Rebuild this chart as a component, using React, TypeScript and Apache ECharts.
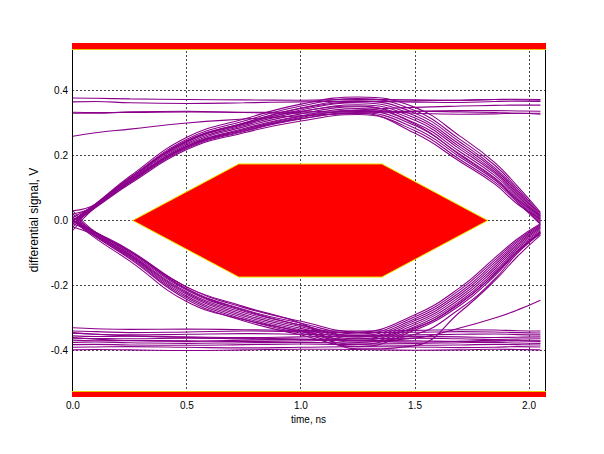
import React, { useEffect, useRef } from "react";
import * as echarts from "echarts";

// time samples (ns) shared by all traces
const T = [0, 0.1, 0.25, 0.5, 0.75, 1.0, 1.25, 1.5, 1.7, 1.85, 1.95, 2.05];

// rising then falling traces (upper lobe of the eye)
const upperLobe = [
  [0.0, 0.052, 0.136, 0.256, 0.312, 0.358, 0.38, 0.348, 0.258, 0.178, 0.105, 0.025],
  [-0.01, 0.05, 0.132, 0.25, 0.306, 0.352, 0.375, 0.338, 0.248, 0.17, 0.098, 0.02],
  [0.0, 0.05, 0.13, 0.245, 0.3, 0.346, 0.368, 0.33, 0.24, 0.162, 0.092, 0.016],
  [0.01, 0.049, 0.128, 0.241, 0.296, 0.34, 0.362, 0.322, 0.232, 0.156, 0.087, 0.012],
  [-0.02, 0.046, 0.125, 0.237, 0.292, 0.334, 0.356, 0.315, 0.225, 0.15, 0.082, 0.008],
  [0.0, 0.046, 0.122, 0.233, 0.288, 0.328, 0.35, 0.308, 0.218, 0.145, 0.077, 0.004],
  [-0.03, 0.042, 0.12, 0.229, 0.283, 0.322, 0.344, 0.3, 0.21, 0.138, 0.072, 0.0],
  [0.02, 0.045, 0.12, 0.226, 0.279, 0.317, 0.338, 0.292, 0.202, 0.131, 0.066, -0.004],
  [0.0, 0.043, 0.116, 0.222, 0.274, 0.312, 0.332, 0.284, 0.194, 0.124, 0.06, -0.008],
  [-0.01, 0.04, 0.113, 0.218, 0.27, 0.306, 0.326, 0.276, 0.186, 0.118, 0.055, -0.012],
  [0.03, 0.05, 0.13, 0.243, 0.298, 0.336, 0.352, 0.296, 0.2, 0.128, 0.064, 0.015],
  [0.0, 0.044, 0.118, 0.225, 0.276, 0.314, 0.33, 0.268, 0.18, 0.112, 0.05, 0.005],
];

// traces that stay high
const upperFlat = [
  [0.377, 0.376, 0.374, 0.372, 0.371, 0.37, 0.372, 0.371, 0.37, 0.372, 0.373, 0.372],
  [0.365, 0.366, 0.362, 0.36, 0.362, 0.365, 0.366, 0.364, 0.363, 0.366, 0.367, 0.366],
  [0.333, 0.332, 0.332, 0.334, 0.332, 0.33, 0.335, 0.336, 0.334, 0.332, 0.33, 0.33],
  [0.33, 0.33, 0.334, 0.336, 0.333, 0.334, 0.338, 0.33, 0.327, 0.328, 0.33, 0.327],
  [0.259, 0.27, 0.281, 0.3, 0.312, 0.322, 0.33, 0.336, 0.338, 0.338, 0.337, 0.336],
  [0.0, 0.05, 0.13, 0.245, 0.3, 0.345, 0.365, 0.368, 0.37, 0.372, 0.371, 0.37],
  [-0.01, 0.044, 0.12, 0.228, 0.28, 0.32, 0.34, 0.348, 0.352, 0.354, 0.355, 0.355],
];

// falling then rising traces (lower lobe of the eye)
const lowerLobe = [
  [0.0, -0.036, -0.092, -0.205, -0.268, -0.31, -0.343, -0.29, -0.205, -0.115, -0.056, -0.01],
  [0.01, -0.038, -0.096, -0.21, -0.274, -0.316, -0.349, -0.296, -0.212, -0.122, -0.061, -0.013],
  [-0.01, -0.04, -0.1, -0.215, -0.279, -0.322, -0.354, -0.302, -0.219, -0.129, -0.066, -0.016],
  [0.0, -0.042, -0.104, -0.22, -0.284, -0.327, -0.359, -0.308, -0.226, -0.136, -0.071, -0.02],
  [0.02, -0.04, -0.106, -0.224, -0.289, -0.332, -0.364, -0.314, -0.233, -0.143, -0.076, -0.024],
  [0.0, -0.045, -0.109, -0.228, -0.294, -0.337, -0.369, -0.32, -0.24, -0.15, -0.081, -0.028],
  [-0.02, -0.047, -0.112, -0.233, -0.299, -0.342, -0.375, -0.326, -0.247, -0.157, -0.086, -0.032],
  [0.01, -0.047, -0.115, -0.238, -0.304, -0.347, -0.381, -0.332, -0.254, -0.163, -0.091, -0.036],
  [0.0, -0.05, -0.118, -0.243, -0.309, -0.352, -0.388, -0.337, -0.26, -0.17, -0.096, -0.04],
  [0.03, -0.036, -0.094, -0.212, -0.276, -0.322, -0.356, -0.33, -0.252, -0.165, -0.095, -0.035],
  [0.0, -0.038, -0.095, -0.205, -0.265, -0.316, -0.395, -0.385, -0.28, -0.185, -0.11, -0.045],
  [0.0, -0.055, -0.125, -0.25, -0.305, -0.34, -0.37, -0.35, -0.27, -0.18, -0.1, -0.04],
];

// traces that stay low
const lowerFlat = [
  [-0.34, -0.342, -0.345, -0.343, -0.34, -0.342, -0.345, -0.344, -0.342, -0.343, -0.345, -0.346],
  [-0.347, -0.35, -0.352, -0.35, -0.348, -0.35, -0.353, -0.352, -0.35, -0.349, -0.351, -0.352],
  [-0.355, -0.357, -0.356, -0.358, -0.36, -0.358, -0.356, -0.357, -0.358, -0.36, -0.359, -0.358],
  [-0.362, -0.363, -0.364, -0.362, -0.364, -0.366, -0.364, -0.362, -0.364, -0.366, -0.365, -0.364],
  [-0.368, -0.37, -0.369, -0.37, -0.372, -0.37, -0.368, -0.37, -0.372, -0.371, -0.37, -0.37],
  [-0.375, -0.374, -0.376, -0.378, -0.376, -0.375, -0.377, -0.378, -0.376, -0.375, -0.377, -0.378],
  [-0.382, -0.381, -0.383, -0.384, -0.382, -0.38, -0.382, -0.384, -0.383, -0.381, -0.382, -0.383],
  [-0.39, -0.389, -0.388, -0.39, -0.392, -0.39, -0.388, -0.389, -0.391, -0.39, -0.388, -0.389],
  [-0.398, -0.397, -0.398, -0.4, -0.398, -0.396, -0.397, -0.399, -0.398, -0.396, -0.397, -0.398],
  [-0.36, -0.365, -0.37, -0.372, -0.368, -0.366, -0.37, -0.374, -0.372, -0.368, -0.37, -0.372],
  [-0.345, -0.35, -0.355, -0.36, -0.362, -0.365, -0.37, -0.362, -0.33, -0.3, -0.275, -0.245],
  [-0.33, -0.333, -0.335, -0.334, -0.336, -0.338, -0.34, -0.338, -0.336, -0.337, -0.339, -0.34],
];

// eye mask (hexagon) vertices
const maskT = [0.262, 0.727, 1.355, 1.819, 1.355, 0.727];
const maskV = [0, 0.174, 0.174, 0, -0.174, -0.174];
// outer mask limits
const maskTop = 0.527;
const maskBottom = -0.525;

// axes
const xTicks = [0, 0.5, 1.0, 1.5, 2.0];
const yTicks = [-0.4, -0.2, 0, 0.2, 0.4];
const X_MIN = -0.004;
const X_MAX = 2.07;
const Y_MIN = -0.543;
const Y_MAX = 0.546;

const TRACE_COLOR = "#8B008B";
const FONT = "'Liberation Sans', Arial, sans-serif";

export default function App() {
  const ref = useRef<HTMLDivElement>(null);

  useEffect(() => {
    if (!ref.current) return;
    const chart = echarts.init(ref.current, null, { renderer: "svg" });

    const allTraces = [...upperFlat, ...lowerFlat, ...upperLobe, ...lowerLobe];
    const traceSeries = allTraces.map((vals) => ({
      type: "line",
      data: T.map((t, i) => [t, vals[i]]),
      showSymbol: false,
      symbol: "none",
      smooth: 0.45,
      lineStyle: { color: TRACE_COLOR, width: 1.1 },
      silent: true,
      z: 3,
    }));

    const renderItem = (params: any, api: any) => {
      const p = (t: number, v: number) => api.coord([t, v]);
      const children: any[] = [];
      const crisp = (n: number) => Math.floor(n) + 0.5;
      // grid lines
      xTicks
        .filter((t) => t > 0)
        .forEach((t) => {
          const a = p(t, Y_MIN);
          const b = p(t, Y_MAX);
          const x = crisp(a[0]);
          children.push({
            type: "line",
            shape: { x1: x, y1: a[1], x2: x, y2: b[1] },
            style: { stroke: "#444", lineWidth: 1, lineDash: [2, 2] },
          });
        });
      yTicks.forEach((v) => {
        const a = p(X_MIN, v);
        const b = p(X_MAX, v);
        const y = crisp(a[1]);
        children.push({
          type: "line",
          shape: { x1: a[0], y1: y, x2: b[0], y2: y },
          style: { stroke: "#444", lineWidth: 1, lineDash: [2, 2] },
        });
      });
      // frame: left and right sides
      [X_MIN, X_MAX].forEach((t) => {
        const a = p(t, Y_MIN);
        const b = p(t, Y_MAX);
        const x = crisp(a[0]);
        children.push({
          type: "line",
          shape: { x1: x, y1: a[1], x2: x, y2: b[1] },
          style: { stroke: "#000", lineWidth: 1 },
        });
      });
      // hexagon mask
      children.push({
        type: "polygon",
        shape: { points: maskT.map((t, i) => p(t, maskV[i])) },
        style: { fill: "#ff0000", stroke: "#e8e800", lineWidth: 1 },
      });
      // top band
      const tl = p(X_MIN, Y_MAX);
      const tr = p(X_MAX, maskTop);
      children.push({
        type: "rect",
        shape: { x: tl[0], y: tl[1], width: tr[0] - tl[0] + 1, height: tr[1] - tl[1] },
        style: { fill: "#ff0000" },
      });
      children.push({
        type: "line",
        shape: { x1: tl[0], y1: crisp(tr[1]), x2: tr[0] + 1, y2: crisp(tr[1]) },
        style: { stroke: "#e8c800", lineWidth: 1 },
      });
      // bottom band
      const bl = p(X_MIN, maskBottom);
      const br = p(X_MAX, Y_MIN);
      children.push({
        type: "rect",
        shape: { x: bl[0], y: bl[1], width: br[0] - bl[0] + 1, height: br[1] - bl[1] },
        style: { fill: "#ff0000" },
      });
      children.push({
        type: "line",
        shape: { x1: bl[0], y1: crisp(bl[1]), x2: br[0] + 1, y2: crisp(bl[1]) },
        style: { stroke: "#e8c800", lineWidth: 1 },
      });
      return { type: "group", children };
    };

    chart.setOption({
      animation: false,
      backgroundColor: "#ffffff",
      grid: {
        left: 72,
        top: 43,
        width: 473,
        height: 354,
        show: false,
      },
      xAxis: {
        type: "value",
        min: X_MIN,
        max: X_MAX,
        name: "time, ns",
        nameLocation: "middle",
        nameGap: 14,
        nameTextStyle: { color: "#000", fontSize: 10, fontFamily: FONT },
        axisLine: { show: false },
        axisTick: { show: false },
        splitLine: { show: false },
        axisLabel: {
          customValues: xTicks,
          formatter: (v: number) => v.toFixed(1),
          color: "#000",
          fontSize: 10,
          fontFamily: FONT,
          margin: 3,
        },
      },
      yAxis: {
        type: "value",
        min: Y_MIN,
        max: Y_MAX,
        name: "differential signal, V",
        nameLocation: "middle",
        nameGap: 27,
        nameTextStyle: { color: "#000", fontSize: 12, fontFamily: FONT },
        axisLine: { show: false },
        axisTick: { show: false },
        splitLine: { show: false },
        axisLabel: {
          customValues: yTicks,
          formatter: (v: number) => v.toFixed(1),
          color: "#000",
          fontSize: 10,
          fontFamily: FONT,
          margin: 4,
        },
      },
      series: [
        {
          type: "custom",
          data: [[0, 0]],
          renderItem,
          silent: true,
          clip: false,
          z: 1,
        },
        ...traceSeries,
      ],
    });

    return () => chart.dispose();
  }, []);

  return (
    <div
      ref={ref}
      style={{ position: "absolute", left: 0, top: 0, width: 604, height: 454 }}
    />
  );
}
